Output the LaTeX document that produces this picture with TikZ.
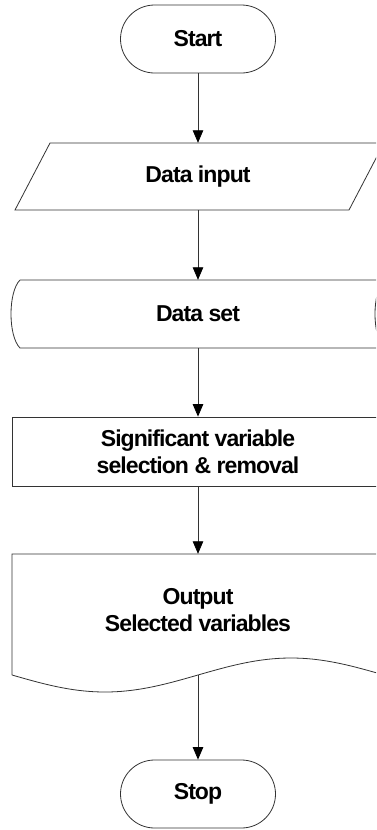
\documentclass[tikz,border=0pt]{standalone}
\usepackage{fontspec}
\setmainfont{Liberation Sans}
\newfontfamily\lblfont[LetterSpace=-4]{Liberation Sans}
\usetikzlibrary{arrows.meta}
\begin{document}
\begin{tikzpicture}[x=1pt,y=-1pt,
  lbl/.style={font=\lblfont\fontsize{23}{27}\selectfont\bfseries, align=center, inner sep=0pt, text=black},
  outl/.style={draw=black!80, line width=0.8pt},
  conn/.style={draw=black!80, line width=0.8pt, -{Triangle[length=12.5pt,width=10.5pt,black]}}]
\useasboundingbox (0,0) rectangle (376,830);
\clip (0,0) rectangle (376,830);
\fill[white] (0,0) rectangle (376,830);
% Start
\node[lbl, outl, rounded corners=34pt, minimum width=155pt, minimum height=68pt] (start) at (198,39) {Start};
% Data input
\node[lbl, minimum width=334pt, minimum height=67pt] (input) at (198,176.5) {Data input};
\draw[outl] (50,143) -- (384,143) -- (349,210) -- (15,210) -- cycle;
% Data set
\node[lbl, minimum width=364pt, minimum height=68pt] (dset) at (198,314) {Data set};
\draw[outl] (20,280) -- (384,280) .. controls (372,292) and (372,336) .. (384,348)
  -- (20,348) .. controls (8,336) and (8,292) .. (20,280);
% Process
\node[lbl, outl, minimum width=376pt, minimum height=69pt, anchor=west] (proc) at (12,451.5) {};
\node[lbl] (proctext) at (198,451.5) {Significant variable\\selection \& removal};
% Document
\node[lbl, minimum width=372pt, minimum height=121pt] (doc) at (198,614.5) {};
\node[lbl] (doctext) at (198,610) {Output\\Selected variables};
\draw[outl] (12,675) -- (12,554) -- (388,554) -- (388,675)
  -- plot[domain=388:12, samples=80] (\x, {675+17*sin(0.967742*(\x-12))});
\coordinate (docbot) at (198,675);
% Stop
\node[lbl, outl, rounded corners=34pt, minimum width=155pt, minimum height=68pt] (stop) at (198,794) {Stop};
% connectors
\draw[conn] (start.south) -- (input.north);
\draw[conn] (input.south) -- (dset.north);
\draw[conn] (dset.south) -- (proc.north -| dset.south);
\draw[conn] (proc.south -| dset.south) -- (doc.north);
\draw[conn] (docbot) -- (stop.north);
\end{tikzpicture}
\end{document}
